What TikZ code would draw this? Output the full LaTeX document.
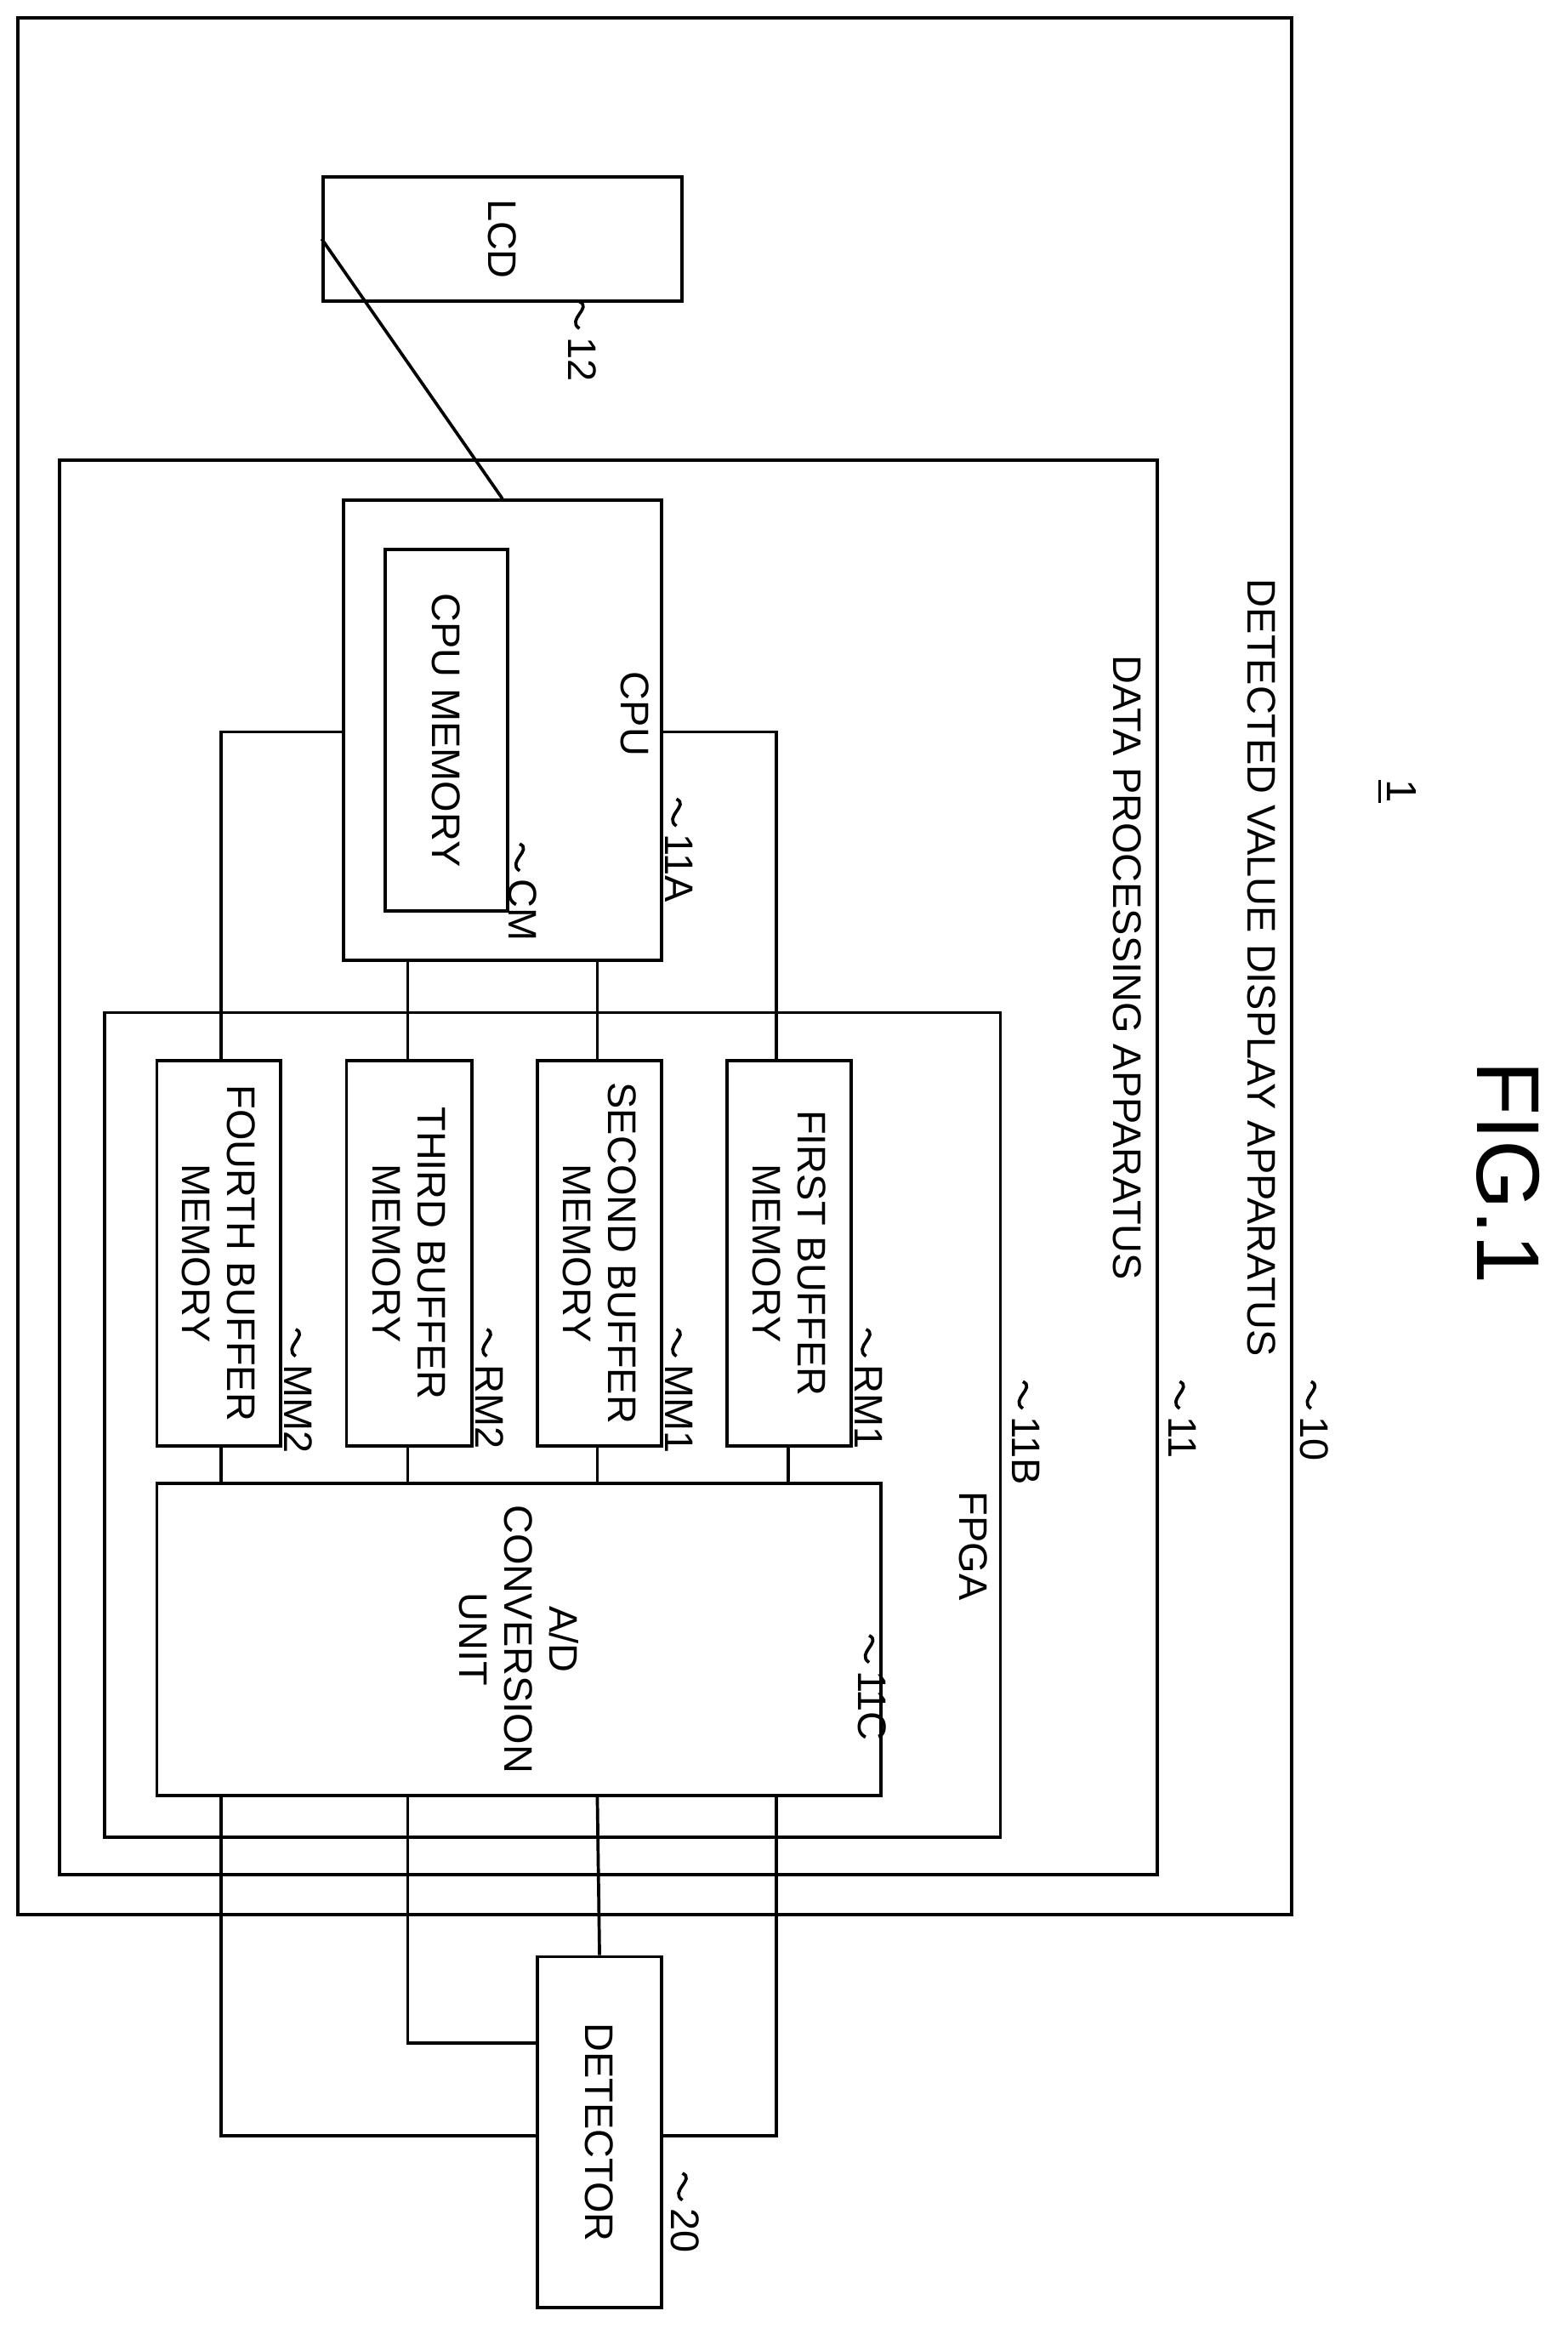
\documentclass[tikz,border=0pt]{standalone}
\usepackage{fontspec}
\setmainfont{Liberation Sans}
\begin{document}
\begin{tikzpicture}[x=0.1mm,y=-0.1mm,line width=0.6pt,
  box/.style={draw},
  txt/.style={rotate=-90,align=center,font=\fontsize{7.6}{8.6}\selectfont},
  wire/.style={draw}]
\useasboundingbox (0,0) rectangle (1050,1570);
\newcommand{\reflab}[3]{\draw (#1,#2-10) .. controls (#1+9,#2-6) and (#1-9,#2+2) .. (#1,#2+8);
  \node[txt,anchor=west,inner sep=1pt] at (#1+2,#2+9) {#3};}
% boxes
\draw (12,12) rectangle (865,1282);
\draw (40,308) rectangle (775,1255);
\draw (70,678) rectangle (670,1230);
\node[box,minimum width=8.3mm,minimum height=24mm,txt,rotate=0] (lcd) at (336.5,160) {};
\node[txt] at (336.5,160) {LCD};
\node[draw,minimum width=21.3mm,minimum height=30.8mm] (cpu) at (336.5,489) {};
\node[txt] at (425,478) {CPU};
\node[draw,minimum width=8.2mm,minimum height=24.2mm] (cm) at (299,489) {};
\node[txt] at (299,489) {CPU MEMORY};
\node[draw,minimum width=8.3mm,minimum height=25.8mm] (b1) at (528.5,839) {};
\node[txt] at (528.5,839) {FIRST BUFFER\\MEMORY};
\node[draw,minimum width=8.3mm,minimum height=25.8mm] (b2) at (401.5,839) {};
\node[txt] at (401.5,839) {SECOND BUFFER\\MEMORY};
\node[draw,minimum width=8.4mm,minimum height=25.8mm] (b3) at (274,839) {};
\node[txt] at (274,839) {THIRD BUFFER\\MEMORY};
\node[draw,minimum width=8.3mm,minimum height=25.8mm] (b4) at (146.5,839) {};
\node[txt] at (146.5,839) {FOURTH BUFFER\\MEMORY};
\node[draw,minimum width=48.5mm,minimum height=20.9mm] (ad) at (347.5,1097.5) {};
\node[txt] at (347.5,1097.5) {A/D\\CONVERSION\\UNIT};
\node[draw,minimum width=8.3mm,minimum height=23.5mm] (det) at (401.5,1427.5) {};
\node[txt] at (401.5,1427.5) {DETECTOR};
% wires
\draw (lcd.south) -- (cpu.north);
\coordinate (c1) at (520,490); \coordinate (c4) at (148,490);
\draw (cpu.east |- c1) -- (c1) -- (520,710);
\draw (cpu.west |- c4) -- (c4) -- (148,710);
\draw (400,643) -- (400,710);
\draw (273,643) -- (273,710);
\foreach \x in {528,400,273,148} \draw (\x,968) -- (\x,993);
\draw (400,1202) -- (det.north);
\draw (273,1202) -- (273,1368) -- (det.west |- 273,1368);
\draw (520,1202) -- (520,1430) -- (det.east |- 520,1430);
\draw (148,1202) -- (148,1430) -- (det.west |- 148,1430);
% labels
\node[txt] at (845,648) {DETECTED VALUE DISPLAY APPARATUS};
\node[txt] at (755,648) {DATA PROCESSING APPARATUS};
\node[txt] at (652,1035) {FPGA};
\node[rotate=-90,font=\fontsize{8}{9}\selectfont] at (935,530) {\underline{1}};
\node[rotate=-90,font=\fontsize{17}{19}\selectfont] at (1010,785) {FIG.1};
\reflab{878}{935}{10}
\reflab{790}{935}{11}
\reflab{685}{935}{11B}
\reflab{582}{1105}{11C}
\reflab{580}{900}{RM1}
\reflab{453}{900}{MM1}
\reflab{326}{900}{RM2}
\reflab{198}{900}{MM2}
\reflab{453}{545}{11A}
\reflab{348}{575}{CM}
\reflab{388}{212}{12}
\reflab{457}{1465}{20}
\end{tikzpicture}
\end{document}
